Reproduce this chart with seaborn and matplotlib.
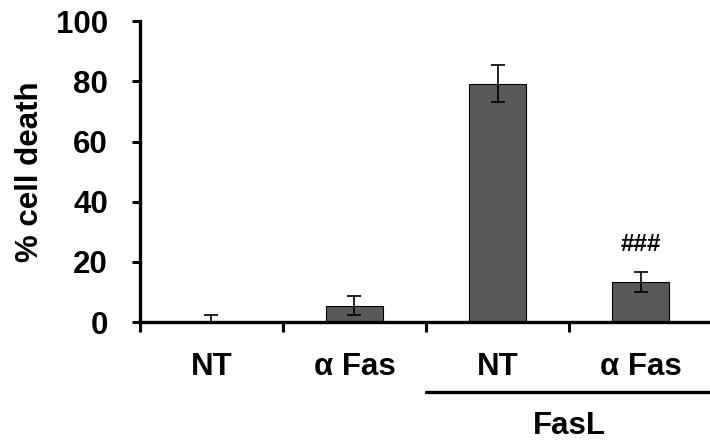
import matplotlib
matplotlib.use("Agg")
import matplotlib.pyplot as plt
import matplotlib.transforms as mtransforms
import seaborn as sns
import pandas as pd

categories = ["NT", "α Fas", "NT ", "α Fas "]
tick_labels = ["NT", "α Fas", "NT", "α Fas"]
values = [0.0, 5.5, 79.3, 13.3]
errors = [2.3, 3.3, 6.0, 3.2]
group_label = "FasL"
annotation = "###"
yticks = [0, 20, 40, 60, 80, 100]

sns.set_theme(style="white")
plt.rcParams["font.family"] = ["Liberation Sans", "DejaVu Sans"]
plt.rcParams["font.weight"] = "bold"
plt.rcParams["text.color"] = "black"
plt.rcParams["xtick.color"] = "black"
plt.rcParams["ytick.color"] = "black"
plt.rcParams["axes.labelcolor"] = "black"

FS = 22.5

df = pd.DataFrame({"cat": categories, "val": values})

fig = plt.figure(figsize=(7.1, 4.43), dpi=100)
ax = fig.add_axes([0.197, 0.273, 0.806, 0.679])
sns.barplot(data=df, x="cat", y="val", ax=ax, color="#595959", width=0.4,
            edgecolor="black", linewidth=0.8, saturation=1, errorbar=None)
ax.errorbar(range(len(values)), values, yerr=errors, fmt="none", ecolor="black",
            elinewidth=1.2, capsize=5, capthick=1.2)

ax.set_xlim(-0.5, 3.5)
ax.set_ylim(0, 100)
ax.set_yticks(yticks)
ax.set_yticklabels([str(t) for t in yticks], fontsize=FS, fontweight="bold")
ax.set_ylabel("% cell death", fontsize=FS, fontweight="bold", labelpad=8)
ax.set_xlabel("")
ax.set_xticks(range(len(categories)))
ax.set_xticklabels(tick_labels, fontsize=FS, fontweight="bold")
ax.set_xticks([-0.5, 0.5, 1.5, 2.5, 3.5], minor=True)
ax.tick_params(axis="x", which="major", length=0, pad=21.5)
ax.tick_params(axis="x", which="minor", length=7, width=2.2, direction="out", bottom=True)
ax.tick_params(axis="y", which="major", length=6, width=2.2, direction="out", left=True, pad=17)

for s in ["top", "right"]:
    ax.spines[s].set_visible(False)
for s in ["left", "bottom"]:
    ax.spines[s].set_linewidth(2.4)
    ax.spines[s].set_color("black")

ax.text(3, values[3] + errors[3] + 5.5, annotation, ha="center", va="bottom",
        fontsize=17.5, fontweight="bold")

trans = mtransforms.blended_transform_factory(ax.transData, ax.transAxes)
ax.plot([1.5, 3.5], [-0.232, -0.232], color="black", lw=2.4, transform=trans, clip_on=False)
ax.text(2.5, -0.297, group_label, ha="center", va="top", fontsize=FS,
        fontweight="bold", transform=trans)

fig.savefig("out.png", dpi=100)
